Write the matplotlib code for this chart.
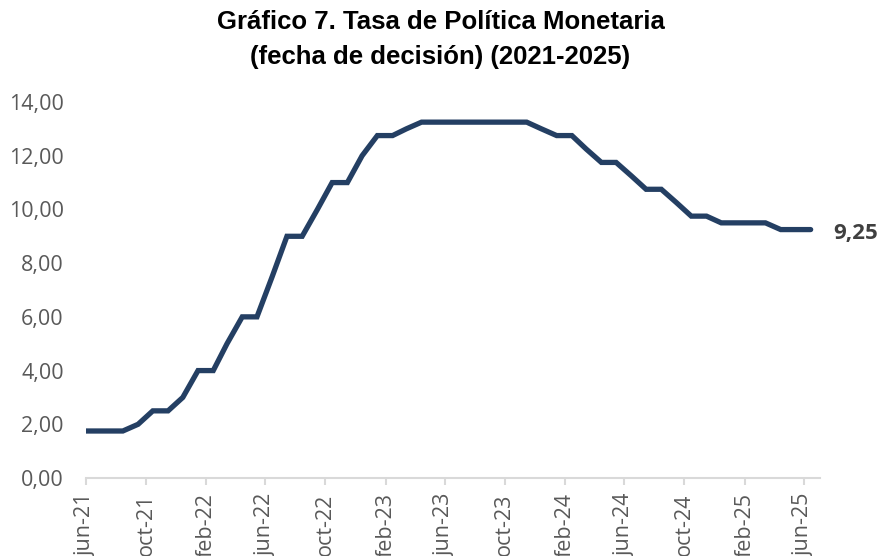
import matplotlib
matplotlib.use("Agg")
import matplotlib.pyplot as plt
import matplotlib.ticker as mticker
import pandas as pd

# ---- data ----
title_lines = ["Gráfico 7. Tasa de Política Monetaria", "(fecha de decisión) (2021-2025)"]
start_month = "2021-06"
end_month = "2025-06"
# policy rate observations (monthly, jun-21 .. jun-25)
rate = [1.75, 1.75, 1.75, 2.00, 2.50, 2.50, 3.00,          # jun-21 .. dec-21
        4.00, 4.00, 5.00, 6.00, 6.00, 7.50, 9.00, 9.00,    # jan-22 .. aug-22
        10.00, 11.00, 11.00, 12.00,                        # sep-22 .. dec-22
        12.75, 12.75, 13.00, 13.25, 13.25, 13.25, 13.25,   # jan-23 .. jul-23
        13.25, 13.25, 13.25, 13.25, 13.00,                 # aug-23 .. dec-23
        12.75, 12.75, 12.25, 11.75, 11.75, 11.25, 10.75,   # jan-24 .. jul-24
        10.75, 10.25, 9.75, 9.75, 9.50,                    # aug-24 .. dec-24
        9.50, 9.50, 9.50, 9.25, 9.25, 9.25]                # jan-25 .. jun-25
tick_labels = ["jun-21", "oct-21", "feb-22", "jun-22", "oct-22", "feb-23",
               "jun-23", "oct-23", "feb-24", "jun-24", "oct-24", "feb-25", "jun-25"]
last_label = "9,25"

# ---- dates ----
periods = pd.period_range(start_month, end_month, freq="M")
obs_dates = [periods[0].start_time] + [p.start_time + pd.Timedelta(days=14) for p in periods[1:]]
tick_dates = [p.start_time for p in periods[::4]]

line_color = "#243f63"
grey_text = "#595959"
axis_grey = "#d9d9d9"

fig = plt.figure(figsize=(8.81, 5.56), dpi=100)
ax = fig.add_axes([86/881, 1-478/556, (820-86)/881, (478-102)/556])

ax.plot(obs_dates, rate, color=line_color, lw=3.8, solid_capstyle="round",
        solid_joinstyle="miter")

ax.set_ylim(0, 14)
ax.set_xlim(periods[0].start_time, pd.Timestamp("2025-07-04"))
ax.yaxis.set_major_locator(mticker.MultipleLocator(2))
ax.yaxis.set_major_formatter(mticker.FuncFormatter(lambda v, p: f"{v:.2f}".replace(".", ",")))
ax.set_xticks(tick_dates)
ax.set_xticklabels(tick_labels, rotation=90, va="top", ha="center")

for s in ["top", "right", "left"]:
    ax.spines[s].set_visible(False)
ax.spines["bottom"].set_color(axis_grey)
ax.spines["bottom"].set_linewidth(1.5)
ax.spines["bottom"].set_zorder(0)

ax.tick_params(axis="y", length=0, pad=16, labelsize=15.5, labelcolor=grey_text)
ax.tick_params(axis="x", length=5, width=1.5, color=axis_grey, pad=6,
               labelsize=15.5, labelcolor=grey_text)
for lab in ax.get_xticklabels() + ax.get_yticklabels():
    lab.set_fontfamily("Open Sans")

ax.annotate(last_label, xy=(obs_dates[-1], rate[-1]), xytext=(16, -3),
            textcoords="offset points", ha="left", va="center",
            fontsize=16, fontweight="bold", color="#404040", family="Open Sans")

for i, line in enumerate(title_lines):
    fig.text(0.5, 1-(22+35*i)/556, line, ha="center", va="center", fontsize=18.5,
             fontweight="bold", family="Liberation Sans")

fig.savefig("out.png", dpi=100)
